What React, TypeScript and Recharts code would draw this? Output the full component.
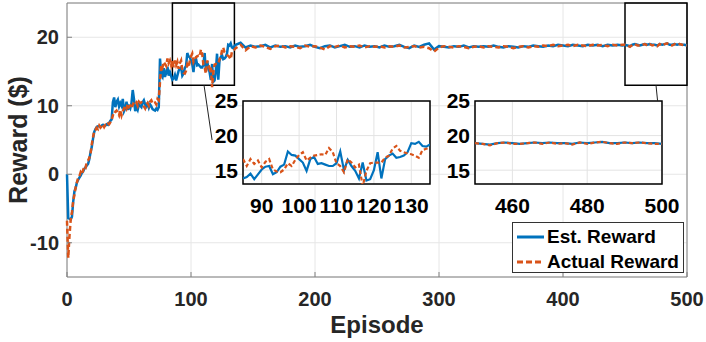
import React from "react";
import { LineChart, Line, XAxis, YAxis, CartesianGrid, ReferenceArea, ReferenceLine, Legend } from "recharts";

// episode numbers (dense up to 135, then sparser on the flat part)
const EPISODES = [
  0, 1, 2, 3, 4, 5, 6, 7, 8, 9, 10, 11, 12, 13, 14, 15, 16, 17, 18, 19,
  20, 21, 22, 23, 24, 25, 26, 27, 28, 29, 30, 31, 32, 33, 34, 35, 36, 37, 38, 39,
  40, 41, 42, 43, 44, 45, 46, 47, 48, 49, 50, 51, 52, 53, 54, 55, 56, 57, 58, 59,
  60, 61, 62, 63, 64, 65, 66, 67, 68, 69, 70, 71, 72, 73, 74, 75, 76, 77, 78, 79,
  80, 81, 82, 83, 84, 85, 86, 87, 88, 89, 90, 91, 92, 93, 94, 95, 96, 97, 98, 99,
  100, 101, 102, 103, 104, 105, 106, 107, 108, 109, 110, 111, 112, 113, 114, 115, 116, 117, 118, 119,
  120, 121, 122, 123, 124, 125, 126, 127, 128, 129, 130, 131, 132, 133, 134, 135,
  136, 140, 144, 148, 152, 156, 160, 164, 168, 172, 176, 180, 184, 188, 192, 196, 200, 204, 208, 212,
  216, 220, 224, 228, 232, 236, 240, 244, 248, 252, 256, 260, 264, 268, 272, 276, 280, 284, 288, 292,
  296, 300, 304, 308, 312, 316, 320, 324, 328, 332, 336, 340, 344, 348, 352, 356, 360, 364, 368, 372,
  376, 380, 384, 388, 392, 396, 400, 404, 408, 412, 416, 420, 424, 428, 432, 436, 440, 444, 448,
  450, 452, 454, 456, 458, 460, 462, 464, 466, 468, 470, 472, 474, 476, 478, 480, 482, 484, 486, 488,
  490, 492, 494, 496, 498, 500,
];

const EST_REWARD = [
  0, -6.4, -6.5, -6.6, -6.2, -4.0, -2.5, -2.0, -1.2, -0.8,
  -0.5, -0.2, 0.2, 0.4, 0.8, 1.0, 1.3, 1.5, 2.2, 3.2,
  4.0, 5.2, 6.2, 6.6, 6.9, 7.0, 7.0, 6.9, 7.1, 7.2,
  7.0, 7.1, 7.3, 7.2, 7.5, 7.8, 8.0, 10.5, 11.2, 9.8,
  10.6, 10.9, 9.9, 10.4, 10.0, 11.0, 9.2, 9.6, 10.6, 9.4,
  9.9, 9.6, 10.4, 12.3, 11.0, 9.2, 9.8, 9.4, 10.2, 10.0,
  9.8, 10.5, 10.8, 10.2, 9.9, 10.3, 9.7, 10.2, 9.9, 9.5,
  9.4, 9.3, 9.6, 9.4, 9.8, 16.9, 14.5, 14.2, 15.5, 14.2,
  14.8, 15.7, 14.4, 14.9, 14.3, 13.8, 14.0, 14.5, 13.7, 14.4,
  15.1, 15.5, 15.6, 14.4, 14.7, 15.5, 15.8, 17.7, 17.2, 17.1,
  16.6, 16.1, 14.9, 16.6, 16.9, 15.9, 16.0, 15.8, 15.6, 15.6,
  16.0, 17.7, 15.0, 16.5, 15.6, 14.9, 13.8, 16.1, 13.5, 13.7,
  15.0, 17.6, 13.8, 16.6, 17.1, 17.4, 16.8, 16.9, 17.1, 17.6,
  18.9, 18.8, 19.1, 18.5, 18.4, 18.7,
  18.9, 19.2, 18.5, 18.8, 18.6, 18.7, 18.9, 18.5, 18.8, 18.6,
  18.7, 18.5, 18.8, 18.6, 18.7, 18.9, 18.6, 18.4, 18.7, 18.8,
  18.5, 18.7, 18.9, 18.6, 18.7, 18.5, 18.8, 18.6, 18.7, 18.5,
  18.8, 18.6, 18.7, 18.9, 18.6, 18.4, 18.8, 18.6, 18.9, 19.1,
  18.2, 18.7, 18.6, 18.5, 18.7, 18.6, 18.8, 18.5, 18.7, 18.6,
  18.7, 18.6, 18.8, 18.6, 18.5, 18.7, 18.6, 18.5, 18.7, 18.6,
  18.8, 18.7, 18.6, 18.8, 18.7, 18.9, 18.8, 18.7, 18.9, 18.8,
  18.7, 18.9, 18.8, 18.9, 18.7, 18.9, 18.8, 18.9, 18.8,
  18.9, 18.8, 18.7, 18.9, 19.0, 18.9, 18.8, 18.9, 19.0, 18.9,
  19.0, 18.9, 18.9, 18.8, 19.0, 18.9, 19.0, 19.1, 18.9, 18.9,
  19.0, 18.9, 19.0, 18.9, 18.9, 18.8,
];

const ACTUAL_REWARD = [
  -6.8, -12.2, -9.0, -6.6, -5.5, -3.9, -3.0, -1.9, -1.2, -0.5,
  -0.3, 0.3, 0.0, 0.6, 1.2, 1.0, 1.8, 2.0, 2.4, 3.0,
  4.4, 5.4, 6.4, 6.5, 6.8, 6.6, 7.1, 6.8, 7.0, 7.3,
  6.9, 7.2, 7.1, 7.4, 7.3, 7.6, 7.9, 8.6, 9.2, 9.1,
  9.3, 9.0, 8.6, 9.4, 8.6, 9.2, 9.6, 10.0, 9.6, 10.3,
  9.8, 10.0, 9.6, 10.1, 10.5, 10.3, 10.5, 10.0, 10.6, 10.4,
  10.5, 10.2, 9.9, 9.6, 10.2, 10.4, 10.0, 10.6, 10.8, 10.4,
  10.6, 10.5, 10.2, 11.0, 10.8, 13.5, 16.0, 15.6, 16.4, 16.1,
  15.8, 16.9, 16.2, 16.6, 15.9, 16.6, 15.6, 16.6, 15.9, 16.4,
  15.4, 16.2, 16.6, 15.1, 14.8, 14.7, 15.1, 16.0, 15.6, 16.5,
  17.2, 17.6, 16.4, 16.8, 17.1, 17.2, 17.3, 17.2, 18.2, 17.6,
  16.0, 15.6, 14.7, 16.6, 16.1, 15.4, 15.8, 12.7, 14.9, 16.0,
  16.1, 16.1, 16.1, 16.8, 17.1, 18.1, 18.5, 17.8, 17.6, 17.4,
  17.3, 17.1, 16.8, 17.9, 18.1, 18.2,
  18.4, 18.9, 18.1, 18.7, 18.5, 18.8, 18.6, 18.3, 18.7, 18.8,
  18.5, 18.7, 18.6, 18.4, 18.8, 18.6, 18.7, 18.5, 18.2, 18.7,
  18.6, 18.8, 18.5, 18.7, 18.6, 18.8, 18.5, 18.7, 18.6, 18.7,
  18.5, 18.7, 18.6, 18.8, 18.5, 18.6, 18.7, 18.5, 18.6, 18.4,
  17.9, 18.5, 18.7, 18.6, 18.5, 18.7, 18.6, 18.4, 18.6, 18.7,
  18.5, 18.7, 18.6, 18.5, 18.7, 18.6, 18.4, 18.6, 18.7, 18.5,
  18.7, 18.6, 18.8, 18.7, 18.9, 18.7, 18.8, 18.9, 18.7, 18.9,
  18.8, 18.7, 18.9, 18.8, 18.9, 18.7, 18.9, 18.8, 18.9,
  18.9, 18.8, 18.6, 18.9, 19.0, 18.8, 18.8, 18.9, 19.0, 18.8,
  19.0, 18.8, 18.9, 18.7, 19.0, 18.8, 19.0, 19.1, 18.9, 18.8,
  19.0, 18.9, 19.0, 18.9, 18.8, 18.8,
];

const X_TICKS = [0, 100, 200, 300, 400, 500];
const Y_TICKS = [-10, 0, 10, 20];
const ZOOM1_TICKS = [90, 100, 110, 120, 130];
const ZOOM2_TICKS = [460, 480, 500];
const ZOOM_Y_TICKS = [15, 20, 25];

const BLUE = "#0072BD";
const ORANGE = "#D95319";
const FONT = "'Liberation Sans', Arial, Helvetica, sans-serif";

const data = EPISODES.map((ep, i) => ({ ep, est: EST_REWARD[i], act: ACTUAL_REWARD[i] }));

const MAIN_TICK = { fontSize: 20, fontWeight: 700, fill: "#262626", fontFamily: FONT };
const INSET_TICK = { fontSize: 21, fontWeight: 700, fill: "#000", fontFamily: FONT };
const TICK_LINE = { stroke: "#808080", strokeWidth: 1 };

function renderLegend() {
  const row = { display: "flex", alignItems: "center", height: 25 };
  return (
    <div
      style={{
        width: 172, height: 51, boxSizing: "border-box", border: "1px solid #333", background: "#fff",
        fontFamily: FONT, fontWeight: 700, fontSize: 19, color: "#000", padding: "1px 0 0 4px", lineHeight: "25px",
      }}
    >
      <div style={row}>
        <svg width={28} height={6}><line x1={0} y1={3} x2={27} y2={3} stroke={BLUE} strokeWidth={3} /></svg>
        <span style={{ marginLeft: 2 }}>Est. Reward</span>
      </div>
      <div style={row}>
        <svg width={28} height={6}><line x1={0} y1={3} x2={27} y2={3} stroke={ORANGE} strokeWidth={3} strokeDasharray="6 3" /></svg>
        <span style={{ marginLeft: 2 }}>Actual Reward</span>
      </div>
    </div>
  );
}

// plot area of each inset: 187 x 83 px, top at y=101
function Inset({ left, domain, ticks }: { left: number; domain: [number, number]; ticks: number[] }) {
  const rows = data.filter((d) => d.ep >= domain[0] && d.ep <= domain[1]);
  return (
    <div style={{ position: "absolute", left, top: 87 }}>
      <LineChart width={245} height={129} data={rows} margin={{ top: 14, right: 20, left: 0, bottom: 0 }}>
        <CartesianGrid stroke="#e3e3e3" fill="#fff" />
        <XAxis dataKey="ep" type="number" domain={domain} ticks={ticks} interval={0} height={32}
          tickSize={0} tickMargin={14} axisLine={false} allowDataOverflow tick={INSET_TICK} />
        <YAxis type="number" domain={[13, 25]} ticks={ZOOM_Y_TICKS} interval={0} width={38}
          tickSize={0} tickMargin={5} axisLine={false} allowDataOverflow tick={INSET_TICK} />
        <Line type="linear" dataKey="est" stroke={BLUE} strokeWidth={2.2} dot={false} isAnimationActive={false} />
        <Line type="linear" dataKey="act" stroke={ORANGE} strokeWidth={2.2} strokeDasharray="4 2.5" dot={false} isAnimationActive={false} />
        <ReferenceArea x1={domain[0]} x2={domain[1]} y1={13} y2={25} fill="none" stroke="#000" strokeWidth={1.5} />
      </LineChart>
    </div>
  );
}

export default function App() {
  return (
    <div style={{ position: "absolute", left: 0, top: 0, width: 706, height: 342, background: "#fff" }}>
      <LineChart width={706} height={342} data={data} margin={{ top: 3, right: 19, bottom: 25, left: 7 }}>
        <CartesianGrid stroke="#e6e6e6" />
        {/* negative tickSize: MATLAB-style ticks pointing into the plot */}
        <XAxis dataKey="ep" type="number" domain={[0, 500]} ticks={X_TICKS} interval={0} height={40}
          tickSize={-5} tickMargin={20} tickLine={TICK_LINE} axisLine={false} tick={MAIN_TICK}
          label={{ value: "Episode", position: "bottom", offset: -1, style: { fontSize: 24, fontWeight: 700, fill: "#262626", fontFamily: FONT } }} />
        <XAxis xAxisId="top" orientation="top" type="number" domain={[0, 500]} ticks={X_TICKS} interval={0} height={0}
          tickSize={-5} tickLine={TICK_LINE} axisLine={false} tick={false} />
        <YAxis type="number" domain={[-15, 25]} ticks={Y_TICKS} interval={0} width={60}
          tickSize={-5} tickMargin={13} tickLine={TICK_LINE} axisLine={false} tick={MAIN_TICK}
          label={{ value: "Reward ($)", angle: -90, position: "insideLeft", offset: 11, style: { textAnchor: "middle", fontSize: 25, fontWeight: 700, fill: "#262626", fontFamily: FONT } }} />
        <YAxis yAxisId="right" orientation="right" type="number" domain={[-15, 25]} ticks={Y_TICKS} interval={0} width={0}
          tickSize={-5} tickLine={TICK_LINE} axisLine={false} tick={false} />
        <Line type="linear" dataKey="est" stroke={BLUE} strokeWidth={2.5} dot={false} isAnimationActive={false} />
        <Line type="linear" dataKey="act" stroke={ORANGE} strokeWidth={2.5} strokeDasharray="5 3" dot={false} isAnimationActive={false} />
        <ReferenceArea x1={0} x2={500} y1={-15} y2={25} fill="none" stroke="#808080" strokeWidth={1} />
        <ReferenceArea x1={85} x2={135} y1={13} y2={25} fill="none" stroke="#000" strokeWidth={1.5} />
        <ReferenceArea x1={450} x2={500} y1={13} y2={25} fill="none" stroke="#000" strokeWidth={1.5} />
        <ReferenceLine segment={[{ x: 110.5, y: 13 }, { x: 117, y: 5 }]} stroke="#222" strokeWidth={1} />
        <ReferenceLine segment={[{ x: 475, y: 13 }, { x: 479.6, y: 4.7 }]} stroke="#222" strokeWidth={1} />
        <Legend layout="vertical" align="center" verticalAlign="middle" content={renderLegend}
          wrapperStyle={{ left: 512, top: 222, width: 172, height: 51 }} />
      </LineChart>
      <Inset left={205} domain={[85, 135]} ticks={ZOOM1_TICKS} />
      <Inset left={437} domain={[450, 500]} ticks={ZOOM2_TICKS} />
    </div>
  );
}
